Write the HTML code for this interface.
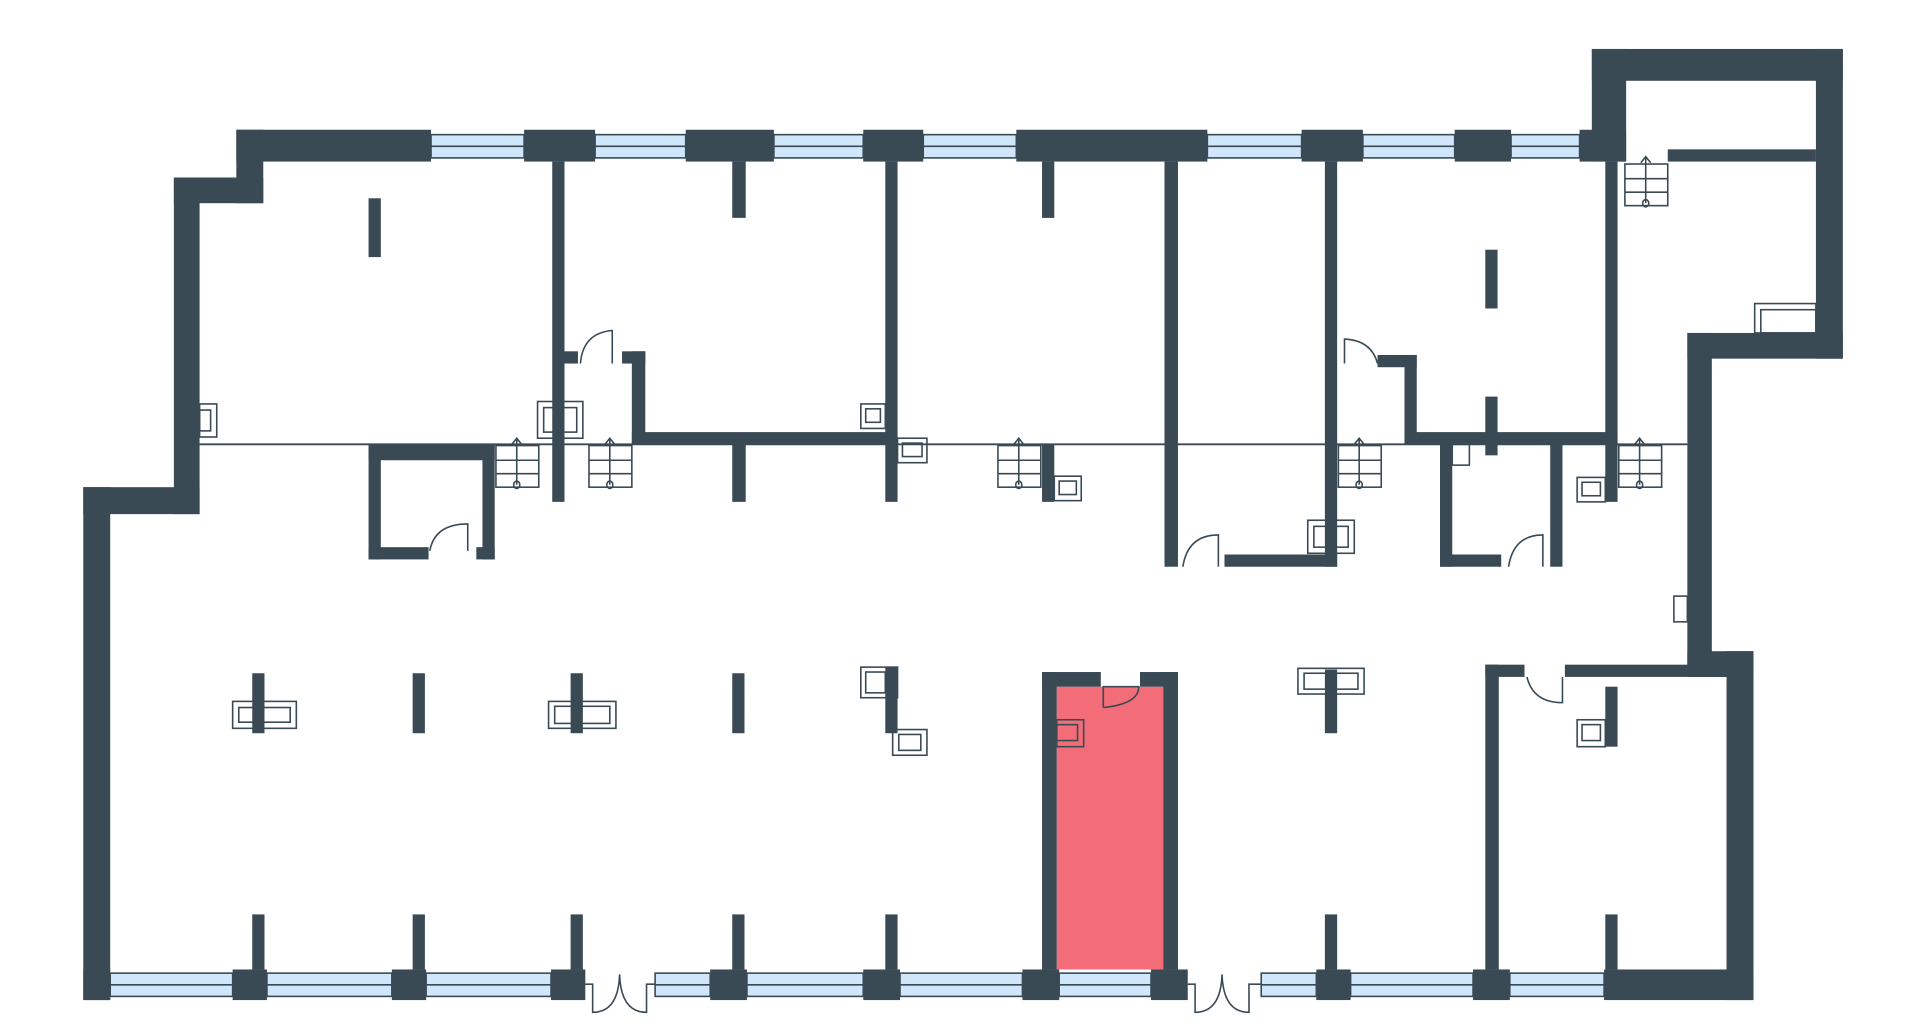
<!DOCTYPE html>
<html><head><meta charset="utf-8"><style>html,body{margin:0;padding:0;background:#fff;overflow:hidden}svg{display:block}</style></head><body>
<svg width="1920" height="1027" viewBox="0 0 1568 839" preserveAspectRatio="none" xmlns="http://www.w3.org/2000/svg">
<defs>
<g id="st"><rect x="0" y="0" width="35" height="34" fill="none" stroke="#3a4a55" stroke-width="1.3"/><line x1="0" y1="12" x2="35" y2="12" stroke="#3a4a55" stroke-width="1.3"/><line x1="0" y1="23" x2="35" y2="23" stroke="#3a4a55" stroke-width="1.3"/><line x1="17" y1="32" x2="17" y2="-6" stroke="#3a4a55" stroke-width="1.3"/><path d="M13 -1 L17 -6 L21 -1" fill="none" stroke="#3a4a55" stroke-width="1.3"/><ellipse cx="17" cy="32" rx="2.5" ry="3" fill="none" stroke="#3a4a55" stroke-width="1.3"/></g>
</defs>
<rect width="1568" height="839" fill="#fff"/>
<line x1="163" y1="363" x2="1378" y2="363" stroke="#3a4a55" stroke-width="1.5"/>
<g fill="#cfe6fb" stroke="#3a4a55" stroke-width="1.3">
<rect x="352" y="110" width="76" height="19"/><rect x="486" y="110" width="74" height="19"/><rect x="632" y="110" width="73" height="19"/><rect x="754" y="110" width="76" height="19"/><rect x="986" y="110" width="77" height="19"/><rect x="1113" y="110" width="75" height="19"/><rect x="1234" y="110" width="56" height="19"/>
<rect x="90" y="795" width="100" height="19"/><rect x="218" y="795" width="102" height="19"/><rect x="348" y="795" width="102" height="19"/><rect x="535" y="795" width="45" height="19"/><rect x="610" y="795" width="95" height="19"/><rect x="735" y="795" width="100" height="19"/><rect x="865" y="795" width="75" height="19"/><rect x="1030" y="795" width="45" height="19"/><rect x="1103" y="795" width="100" height="19"/><rect x="1233" y="795" width="77" height="19"/>
</g>
<g stroke="#3a4a55" stroke-width="1.3">
<line x1="352" y1="119.5" x2="1290" y2="119.5"/><line x1="90" y1="804.5" x2="478" y2="804.5"/><line x1="535" y1="804.5" x2="970" y2="804.5"/><line x1="1030" y1="804.5" x2="1310" y2="804.5"/>
</g>
<g fill="#3a4a55">
<rect x="193" y="106" width="159" height="26"/><rect x="428" y="106" width="58" height="26"/><rect x="560" y="106" width="72" height="26"/><rect x="705" y="106" width="49" height="26"/><rect x="830" y="106" width="156" height="26"/><rect x="1063" y="106" width="50" height="26"/><rect x="1188" y="106" width="46" height="26"/><rect x="1290" y="106" width="38" height="26"/>
<rect x="193" y="106" width="22" height="60"/><rect x="142" y="145" width="73" height="21"/><rect x="142" y="145" width="21" height="275"/><rect x="68" y="398" width="95" height="22"/><rect x="68" y="398" width="22" height="419"/>
<rect x="68" y="792" width="22" height="25"/><rect x="190" y="792" width="28" height="25"/><rect x="320" y="792" width="28" height="25"/><rect x="450" y="792" width="28" height="25"/><rect x="580" y="792" width="30" height="25"/><rect x="705" y="792" width="30" height="25"/><rect x="835" y="792" width="30" height="25"/><rect x="940" y="792" width="30" height="25"/><rect x="1075" y="792" width="28" height="25"/><rect x="1203" y="792" width="30" height="25"/><rect x="1310" y="792" width="122" height="25"/>
<rect x="1410" y="532" width="22" height="285"/><rect x="1378" y="532" width="54" height="21"/><rect x="1378" y="272" width="20" height="281"/><rect x="1378" y="272" width="127" height="21"/>
<rect x="1300" y="40" width="205" height="26"/><rect x="1483" y="40" width="22" height="253"/><rect x="1300" y="40" width="28" height="92"/><rect x="1362" y="122" width="121" height="10"/>
<rect x="451" y="132" width="10" height="278"/><rect x="461" y="287" width="11" height="10"/><rect x="508" y="287" width="19" height="10"/><rect x="516" y="287" width="11" height="76"/><rect x="516" y="353" width="217" height="10"/>
<rect x="723" y="132" width="10" height="278"/>
<rect x="598" y="132" width="11" height="46"/><rect x="598" y="363" width="11" height="47"/>
<rect x="851" y="132" width="10" height="46"/><rect x="851" y="363" width="10" height="47"/>
<rect x="951" y="132" width="11" height="331"/><rect x="1082" y="132" width="10" height="331"/><rect x="1000" y="453" width="92" height="10"/>
<rect x="1125" y="290" width="32" height="10"/><rect x="1147" y="290" width="10" height="73"/><rect x="1147" y="353" width="174" height="10"/>
<rect x="1213" y="204" width="10" height="48"/><rect x="1213" y="324" width="10" height="48"/>
<rect x="1311" y="132" width="10" height="278"/>
<rect x="1176" y="363" width="10" height="100"/><rect x="1266" y="363" width="10" height="100"/><rect x="1176" y="453" width="50" height="10"/>
<rect x="301" y="162" width="10" height="48"/>
<rect x="301" y="363" width="10" height="94"/><rect x="301" y="363" width="103" height="13"/><rect x="394" y="363" width="10" height="94"/><rect x="301" y="447" width="49" height="10"/><rect x="389" y="447" width="15" height="10"/>
<rect x="206" y="550" width="10" height="49"/><rect x="337" y="550" width="10" height="49"/><rect x="466" y="550" width="10" height="49"/><rect x="598" y="550" width="10" height="49"/><rect x="723" y="545" width="10" height="54"/><rect x="1082" y="547" width="10" height="52"/>
<rect x="206" y="747" width="10" height="45"/><rect x="337" y="747" width="10" height="45"/><rect x="466" y="747" width="10" height="45"/><rect x="598" y="747" width="10" height="45"/><rect x="723" y="747" width="10" height="45"/><rect x="1082" y="747" width="10" height="45"/><rect x="1311" y="747" width="10" height="45"/>
</g>
<rect x="863" y="561" width="87" height="231" fill="#f26d78"/>
<g fill="#3a4a55">
<rect x="851" y="549" width="12" height="243"/><rect x="950" y="549" width="12" height="243"/><rect x="851" y="549" width="48" height="12"/><rect x="931" y="549" width="31" height="12"/>
<rect x="1213" y="543" width="11" height="249"/><rect x="1213" y="543" width="32" height="10"/><rect x="1278" y="543" width="132" height="10"/><rect x="1311" y="561" width="10" height="49"/>
</g>
<g fill="none" stroke="#3a4a55" stroke-width="1.3">
<path d="M474 297 Q476 272 500 270 L500 297"/>
<path d="M1098 297 L1098 277 Q1120 278 1125 297"/>
<path d="M966 463 Q970 437 995 437 L995 463"/>
<path d="M1232 463 Q1236 437 1260 437 L1260 463"/>
<path d="M351 450 Q355 428 382 428 L382 450"/>
<path d="M901 578 L901 561 L930 561 Q930 575 901 578"/>
<path d="M1247 553 Q1252 574 1276 574 L1276 553"/>
<path d="M478 804 L484 804 L484 827 Q505 827 506 796 Q507 827 528 827 L528 804 L535 804"/>
<path d="M970 804 L976 804 L976 827 Q997 827 998 796 Q999 827 1020 827 L1020 804 L1030 804"/>
</g>
<g fill="none" stroke="#3a4a55" stroke-width="1.3">
<rect x="163" y="330" width="14" height="27"/><rect x="163" y="335" width="9" height="17"/>
<rect x="439" y="328" width="37" height="30"/><rect x="444" y="333" width="27" height="20"/>
<rect x="703" y="330" width="20" height="20"/><rect x="707" y="334" width="12" height="11"/>
<rect x="733" y="358" width="24" height="20"/><rect x="737" y="362" width="16" height="11"/>
<rect x="861" y="389" width="22" height="20"/><rect x="865" y="393" width="14" height="11"/>
<rect x="1068" y="425" width="38" height="27"/><rect x="1073" y="430" width="28" height="17"/>
<rect x="1288" y="390" width="23" height="20"/><rect x="1292" y="394" width="15" height="11"/>
<rect x="1367" y="487" width="11" height="21"/>
<rect x="1433" y="248" width="50" height="24"/><rect x="1438" y="253" width="45" height="19"/>
<rect x="1186" y="363" width="14" height="17"/>
<rect x="190" y="573" width="52" height="22"/><rect x="195" y="578" width="42" height="12"/>
<rect x="448" y="573" width="55" height="22"/><rect x="453" y="577" width="45" height="14"/>
<rect x="703" y="545" width="30" height="25"/><rect x="707" y="549" width="16" height="17"/>
<rect x="729" y="596" width="28" height="21"/><rect x="734" y="600" width="18" height="13"/>
<rect x="1060" y="546" width="54" height="21"/><rect x="1065" y="550" width="44" height="13"/>
<rect x="863" y="588" width="22" height="22"/><rect x="863" y="592" width="17" height="13"/>
<rect x="1288" y="588" width="23" height="22"/><rect x="1292" y="592" width="15" height="13"/>
</g>
<use href="#st" x="405" y="364"/><use href="#st" x="481" y="364"/><use href="#st" x="815" y="364"/><use href="#st" x="1093" y="364"/><use href="#st" x="1322" y="364"/><use href="#st" x="1327" y="134"/>
</svg>
</body></html>
